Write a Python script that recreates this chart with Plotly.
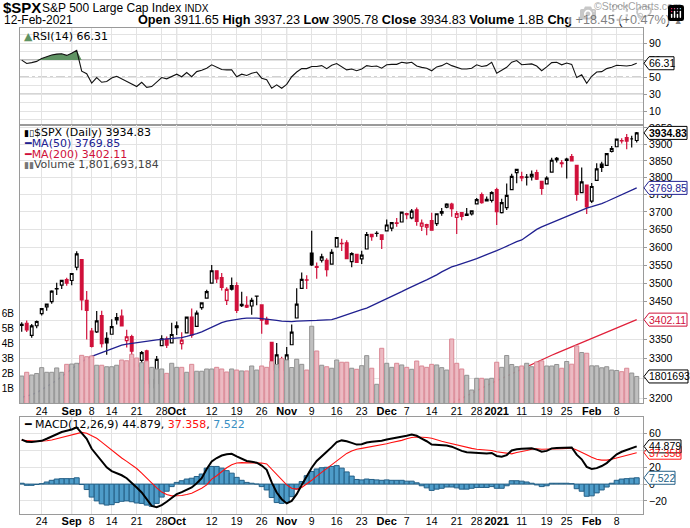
import math
import pandas as pd
import plotly.graph_objects as go

# ---------------- data ----------------
holidays = ["2020-09-07", "2020-11-26", "2020-12-25", "2021-01-01", "2021-01-18"]
dates = [d.strftime("%Y-%m-%d") for d in pd.bdate_range("2020-08-18", "2021-02-12")
         if d.strftime("%Y-%m-%d") not in holidays]
xi = list(range(len(dates)))

prev_close0 = 3381.99
opens = [3387.04, 3392.51, 3360.48, 3386.01, 3418.09, 3435.95, 3449.97, 3485.14, 3494.69, 3509.73,
         3507.44, 3543.76, 3564.74, 3453.60, 3371.88, 3369.82, 3412.56, 3352.70, 3363.56, 3407.73,
         3411.23, 3346.86, 3357.38, 3285.57, 3295.75, 3320.11, 3226.14, 3236.66, 3333.90, 3350.92,
         3341.21, 3385.87, 3338.94, 3367.27, 3408.74, 3384.56, 3434.28, 3459.67, 3500.02, 3534.01,
         3515.47, 3453.72, 3493.50, 3493.66, 3439.38, 3439.91, 3438.50, 3464.90, 3441.42, 3403.15,
         3342.48, 3277.17, 3293.59, 3296.20, 3336.25, 3406.46, 3485.74, 3508.34, 3583.04, 3543.26,
         3563.22, 3562.67, 3552.57, 3600.16, 3610.31, 3612.09, 3559.41, 3579.31, 3566.82, 3594.52,
         3635.50, 3638.55, 3634.18, 3645.87, 3653.78, 3668.28, 3670.94, 3694.73, 3683.05, 3705.98,
         3659.13, 3656.08, 3675.27, 3666.41, 3696.25, 3713.65, 3722.39, 3684.28, 3698.08, 3693.42,
         3694.03, 3723.03, 3750.01, 3736.19, 3733.27, 3764.61, 3698.02, 3712.20, 3764.71, 3815.05,
         3803.14, 3801.62, 3802.23, 3814.98, 3788.73, 3781.88, 3816.22, 3857.46, 3844.24, 3851.68,
         3862.96, 3836.83, 3755.75, 3778.05, 3731.17, 3791.84, 3840.27, 3836.66, 3878.30, 3892.59,
         3910.49, 3920.78, 3916.40, 3911.65]
highs = [3395.06, 3399.54, 3390.80, 3399.96, 3432.09, 3444.21, 3481.07, 3501.38, 3509.23, 3514.77,
         3528.03, 3588.11, 3564.85, 3479.15, 3379.97, 3424.77, 3425.55, 3368.95, 3402.93, 3419.48,
         3428.92, 3375.17, 3362.27, 3285.57, 3320.31, 3323.35, 3278.70, 3306.88, 3360.74, 3357.92,
         3393.56, 3397.18, 3369.10, 3409.57, 3431.56, 3426.26, 3447.28, 3482.34, 3549.85, 3534.01,
         3527.94, 3489.08, 3515.76, 3502.42, 3476.93, 3464.86, 3460.53, 3466.46, 3441.42, 3409.51,
         3342.48, 3341.05, 3304.93, 3330.14, 3389.49, 3486.25, 3529.05, 3521.58, 3645.99, 3557.22,
         3581.16, 3569.02, 3593.66, 3628.51, 3623.11, 3619.09, 3585.22, 3581.23, 3589.81, 3642.31,
         3635.50, 3644.31, 3634.18, 3678.45, 3670.96, 3682.73, 3699.20, 3697.41, 3708.45, 3712.39,
         3678.49, 3665.91, 3697.61, 3695.29, 3711.27, 3725.12, 3726.70, 3702.90, 3698.26, 3711.24,
         3703.82, 3740.51, 3756.12, 3744.63, 3760.20, 3769.99, 3737.83, 3783.04, 3811.55, 3826.69,
         3817.86, 3810.78, 3820.96, 3823.60, 3788.73, 3804.53, 3859.75, 3861.45, 3852.31, 3859.23,
         3870.90, 3836.83, 3830.50, 3778.05, 3784.32, 3843.09, 3847.51, 3872.42, 3894.56, 3915.77,
         3918.35, 3931.50, 3925.99, 3937.23]
lows = [3370.15, 3369.66, 3354.69, 3379.31, 3413.13, 3425.84, 3444.15, 3468.35, 3484.32, 3493.25,
        3494.60, 3535.23, 3427.41, 3349.63, 3329.27, 3366.84, 3329.25, 3310.47, 3363.56, 3389.25,
        3384.45, 3328.82, 3292.40, 3229.10, 3270.95, 3232.57, 3209.45, 3228.44, 3332.91, 3327.54,
        3340.47, 3361.39, 3323.69, 3367.27, 3354.54, 3384.56, 3428.15, 3458.07, 3499.61, 3500.86,
        3480.55, 3440.89, 3480.45, 3419.93, 3435.65, 3433.06, 3415.34, 3440.45, 3364.86, 3388.71,
        3268.89, 3259.82, 3233.94, 3279.74, 3336.25, 3405.17, 3485.74, 3484.34, 3547.48, 3511.91,
        3557.00, 3518.58, 3552.57, 3600.16, 3588.68, 3567.33, 3543.84, 3556.85, 3552.77, 3594.52,
        3617.76, 3629.33, 3594.39, 3645.87, 3644.84, 3657.17, 3670.94, 3678.88, 3678.83, 3660.54,
        3645.18, 3633.40, 3645.84, 3659.62, 3688.57, 3710.87, 3685.84, 3636.48, 3676.16, 3689.28,
        3689.32, 3723.03, 3723.31, 3730.21, 3726.88, 3662.71, 3695.07, 3705.34, 3764.71, 3783.60,
        3789.02, 3776.51, 3791.50, 3792.86, 3749.62, 3780.37, 3816.22, 3845.05, 3830.41, 3797.16,
        3847.78, 3732.48, 3755.75, 3694.12, 3725.62, 3791.84, 3816.68, 3836.66, 3874.93, 3892.59,
        3902.64, 3884.94, 3890.39, 3905.78]
closes = [3389.78, 3374.85, 3385.51, 3397.16, 3431.28, 3443.62, 3478.73, 3484.55, 3508.01, 3500.31,
          3526.65, 3580.84, 3455.06, 3426.96, 3331.84, 3398.96, 3339.19, 3340.97, 3383.54, 3401.20,
          3385.49, 3357.01, 3319.47, 3281.06, 3315.57, 3236.92, 3246.59, 3298.46, 3351.60, 3335.47,
          3363.00, 3380.80, 3348.42, 3408.60, 3360.97, 3419.44, 3446.83, 3477.14, 3534.22, 3511.93,
          3488.67, 3483.34, 3483.81, 3426.92, 3443.12, 3435.56, 3453.49, 3465.39, 3400.97, 3390.68,
          3271.03, 3310.11, 3269.96, 3310.24, 3369.16, 3443.44, 3510.45, 3509.44, 3550.50, 3545.53,
          3572.66, 3537.01, 3585.15, 3626.91, 3609.53, 3567.79, 3581.87, 3557.54, 3577.59, 3635.41,
          3629.65, 3638.35, 3621.63, 3662.45, 3669.01, 3666.72, 3699.12, 3691.96, 3702.25, 3672.82,
          3668.10, 3663.46, 3647.49, 3694.62, 3701.17, 3722.48, 3709.41, 3694.92, 3687.26, 3690.01,
          3703.06, 3735.36, 3727.04, 3732.04, 3756.07, 3700.65, 3726.86, 3748.14, 3803.79, 3824.68,
          3799.61, 3801.19, 3809.84, 3795.54, 3768.25, 3798.91, 3851.85, 3853.07, 3841.47, 3855.36,
          3849.62, 3750.77, 3787.38, 3714.24, 3773.86, 3826.31, 3830.17, 3871.74, 3886.83, 3915.59,
          3911.23, 3909.88, 3916.38, 3934.83]
volume_b = [1.83, 2.08, 1.90, 2.00, 2.39, 2.08, 2.08, 2.37, 2.08, 2.61,
            2.63, 2.68, 3.21, 3.12, 3.17, 2.55, 2.55, 2.45, 2.45, 2.55,
            2.90, 2.85, 3.28, 3.03, 2.72, 2.83, 2.41, 2.30, 2.30, 2.01,
            2.68, 2.41, 2.41, 2.08, 2.61, 2.15, 2.15, 2.30, 2.30, 2.41,
            2.30, 2.10, 2.30, 2.23, 2.17, 2.17, 2.50, 2.23, 2.50, 2.41,
            2.80, 2.60, 3.00, 2.90, 2.40, 2.95, 2.61, 2.23, 5.15, 3.50,
            2.55, 2.45, 2.35, 2.90, 2.75, 2.75, 2.35, 2.28, 2.52, 3.19,
            2.35, 1.28, 3.68, 2.68, 2.41, 2.68, 2.57, 2.41, 2.28, 2.83,
            2.50, 2.41, 2.61, 2.57, 2.39, 2.23, 4.30, 2.68, 2.30, 1.88,
            0.90, 1.68, 1.68, 1.62, 1.68, 2.75, 2.41, 3.20, 2.60, 2.45,
            2.50, 2.68, 2.45, 2.77, 2.84, 2.50, 2.50, 2.60, 2.35, 2.80,
            2.62, 3.84, 3.40, 3.35, 2.51, 2.51, 2.38, 2.45, 2.23, 2.20,
            2.12, 2.35, 2.03, 1.801693184]
ma50 = [3202, 3205, 3209, 3214, 3221, 3229, 3237, 3245, 3254, 3263,
        3274, 3284, 3293, 3300, 3306, 3311, 3316, 3321, 3326, 3330,
        3335, 3338, 3340, 3342, 3344, 3346, 3348, 3349, 3350, 3351,
        3352, 3354, 3355, 3358, 3361, 3365, 3370, 3376, 3382, 3389,
        3394, 3398, 3401, 3403, 3405, 3406, 3407, 3406, 3405, 3404,
        3402, 3400, 3398, 3397, 3397, 3398, 3398, 3399, 3400, 3400,
        3401, 3401, 3402, 3406, 3411, 3416, 3421, 3425, 3429, 3433,
        3439, 3445, 3451, 3457, 3463, 3470, 3477, 3484, 3491, 3497,
        3503, 3509, 3515, 3523, 3531, 3539, 3545, 3549, 3553, 3557,
        3563, 3568, 3573, 3578, 3584, 3590, 3596, 3603, 3609, 3615,
        3620, 3630, 3641, 3650, 3657, 3663, 3669, 3675, 3681, 3687,
        3694, 3700, 3706, 3711, 3715, 3719, 3724, 3730, 3737, 3743,
        3749, 3756, 3763, 3769.85]
ma200_start = 85
ma200 = [3181, 3187.5, 3194, 3200, 3206.5, 3212.5, 3219, 3225, 3231.5, 3238,
         3244, 3250, 3256, 3262, 3268, 3274, 3280, 3286, 3292, 3298,
         3303.5, 3309, 3314.5, 3320, 3326, 3331.5, 3337, 3342.5, 3348, 3353.5,
         3359, 3364.5, 3370, 3375.5, 3380.5, 3386, 3391.5, 3397, 3402.11]
rsi = [70, 66, 67, 68.5, 72, 74, 76, 77, 77.5, 75.5,
       78, 81.5, 57, 54, 43, 49.5, 44, 45, 49, 51,
       48, 45, 42, 39, 44, 38, 39, 44, 49.5, 48,
       51, 53.5, 50.5, 55.5, 50.5, 56.5, 58, 60.5, 64.5, 61.5,
       59, 58.5, 58.5, 50.5, 53.5, 52, 54.5, 56, 48.8, 47,
       37, 41, 37, 41.5, 50.5, 56, 60, 60, 62.5, 62.5,
       63.5, 60, 64, 66, 62, 58.5, 59.5, 57.5, 59.5, 63.5,
       62.5, 63, 60.5, 64.5, 65, 65, 67.5, 66.5, 67.5, 63,
       61.5, 60.5, 57.5, 62, 63.5, 66.5, 63.5, 61.3, 59.5, 59.5,
       60.5, 64.5, 62.5, 63.5, 67.5, 54.7, 58, 61.5, 67.5, 69.5,
       64.5, 65, 65.5, 63, 57.5, 62, 67, 67.5, 64.5, 66.5,
       65, 49.5, 52.7, 42.9, 51, 56, 56.5, 60, 61.5, 64,
       63.5, 63, 64, 66.31]
macd = [53, 50.5, 50, 50.5, 51.5, 54, 57, 60, 62, 63.5,
        65, 67.5, 61, 54, 42, 34.5, 26.5, 20, 15.5, 13,
        10.5, 7, 2, -4, -10, -18, -26, -27.5, -25, -21,
        -17, -12, -9.5, -6.5, -4, 1, 7, 18, 27, 31,
        34, 35.5, 36, 33, 30, 27.5, 26.5, 25.5, 22, 17,
        2, -10, -18, -23, -20, -12, -1, 10, 19.5, 27.5,
        33.5, 38.5, 44, 50, 52, 51, 49, 47, 47.5, 49.5,
        50.5, 51, 51.5, 53, 54, 55, 56.5, 57.5, 59, 57.5,
        54, 51, 47, 46.5, 46, 46, 44.5, 42, 39.5, 38,
        37.5, 37.5, 37, 36.5, 37, 33.5, 32.5, 34.5, 40, 41.5,
        42, 42.5, 42.5, 41, 38.5, 39.5, 42.5, 43, 43, 43.5,
        43.5, 35, 29.5, 20.5, 18, 19, 21.5, 25, 30.5, 35.5,
        38.5, 40.5, 42.5, 44.879]
signal = [52, 52, 51.5, 51, 51, 51.5, 52.5, 54, 55.5, 57,
          58.5, 60, 61.5, 60.5, 57.5, 54.5, 50, 45, 40, 35,
          31, 27, 23, 18.5, 13, 7, 0.5, -4.5, -9.5, -12.5,
          -14, -14, -13.5, -12.5, -11, -8, -5, -1, 6, 10,
          15, 19.5, 23, 25, 25.5, 25.5, 25.5, 25.5, 25, 24,
          18, 12, 5, -1, -5, -6, -4, 0, 4.5, 9.5,
          14, 18.5, 23, 28, 33, 36.5, 39.5, 41.5, 42.5, 43.5,
          45, 46, 47, 48, 49.5, 50.5, 52, 54, 55.5, 56,
          56, 55.5, 54.5, 52.5, 51, 49.5, 48, 46.5, 45.5, 44,
          42.5, 41.5, 41, 40.5, 40, 38.5, 37.5, 36.5, 36, 37.5,
          38.5, 40, 41.5, 42, 41.5, 41.5, 41.5, 42, 42, 42.5,
          43, 40.5, 38, 35, 32, 29.5, 28.5, 28.5, 29.5, 31,
          32.5, 34, 35.5, 37.358]
hist = [1, -1.5, -1.5, -0.5, 0.5, 2.5, 4.5, 6, 6.5, 6.5,
        6.5, 7.5, -0.5, -6.5, -15.5, -20, -23.5, -25, -24.5, -22,
        -20.5, -20, -21, -22.5, -23, -25, -26.5, -23, -15.5, -8.5,
        -3, 2, 4, 6, 7, 9, 12, 19, 21, 21,
        19, 16, 13, 8, 4.5, 2, 1, 0, -3, -7,
        -16, -22, -23, -22, -15, -6, 3, 10, 15, 18,
        19.5, 20, 21, 22, 19, 14.5, 9.5, 5.5, 5, 6,
        5.5, 5, 4.5, 5, 4.5, 4.5, 4.5, 3.5, 3.5, 1.5,
        -2, -4.5, -7.5, -6, -5, -3.5, -3.5, -4.5, -6, -6,
        -5, -4, -4, -4, -3, -5, -5, -2, 4, 4,
        3.5, 2.5, 1, -1, -3, -2, 1, 1, 1, 1,
        0.5, -5.5, -8.5, -14.5, -14, -10.5, -7, -3.5, 1, 4.5,
        6, 6.5, 7, 7.522]

tick_dates = ["2020-08-24", "2020-09-01", "2020-09-08", "2020-09-14", "2020-09-21", "2020-09-28",
              "2020-10-01", "2020-10-12", "2020-10-19", "2020-10-26", "2020-11-02", "2020-11-09",
              "2020-11-16", "2020-11-23", "2020-12-01", "2020-12-07", "2020-12-14", "2020-12-21",
              "2020-12-28", "2021-01-04", "2021-01-11", "2021-01-19", "2021-01-25", "2021-02-01",
              "2021-02-08"]
tick_labels = ["24", "Sep", "8", "14", "21", "28", "Oct", "12", "19", "26", "Nov", "9", "16", "23",
               "Dec", "7", "14", "21", "28", "2021", "11", "19", "25", "Feb", "8"]
month_labels = ["Sep", "Oct", "Nov", "Dec", "2021", "Feb"]

price_ticks = [3200, 3250, 3300, 3350, 3400, 3450, 3500, 3550, 3600, 3650, 3700, 3750, 3800, 3850, 3900, 3950]
vol_ticks_b = [1, 2, 3, 4, 5, 6]
rsi_ticks = [10, 30, 50, 70, 90]
macd_ticks = [-20, 0, 20, 40, 60]

# ---------------- styling ----------------
RED = "#d0103a"
NAVY = "#202090"
AX = "Liberation Sans"
LG = "DejaVu Sans"
GRID = "#e3e3e3"
MGRID = "#bdbdbd"
XR = [-0.34, 124.26]

pos = {d: i for i, d in enumerate(dates)}
tick_pos = [pos[d] for d in tick_dates]
tick_text = [("<b>%s</b>" % t) if t in month_labels else ("<span style='font-size:10.5px'>%s</span>" % t)
             for t in tick_labels]
month_pos = [p for p, t in zip(tick_pos, tick_labels) if t in month_labels]

prev = [prev_close0] + closes[:-1]
up_day = [c >= p for c, p in zip(closes, prev)]

fig = go.Figure()

# volume (overlay in price panel)
vol_fill = ["#bfbfbf" if u else "#ecbac2" for u in up_day]
vol_line = ["#929292" if u else "#da8894" for u in up_day]
fig.add_trace(go.Bar(x=xi, y=[v * 1e9 for v in volume_b], width=0.82,
                     marker=dict(color=vol_fill, line=dict(color=vol_line, width=1)),
                     xaxis="x2", yaxis="y3", hoverinfo="skip"))

# moving averages
fig.add_trace(go.Scatter(x=xi, y=ma50, mode="lines", line=dict(color=NAVY, width=1.3),
                         xaxis="x2", yaxis="y2", hoverinfo="skip"))
fig.add_trace(go.Scatter(x=list(range(ma200_start, ma200_start + len(ma200))), y=ma200, mode="lines",
                         line=dict(color="#e0203a", width=1.2), xaxis="x2", yaxis="y2", hoverinfo="skip"))

# candles: black (close up vs prior close) and red (close down)
for want, col, fill_dn in [(True, "black", "black"), (False, RED, RED)]:
    idx = [i for i in xi if up_day[i] == want]
    fig.add_trace(go.Candlestick(
        x=idx, open=[opens[i] for i in idx], high=[highs[i] for i in idx],
        low=[lows[i] for i in idx], close=[closes[i] for i in idx],
        increasing=dict(line=dict(color=col, width=1.2), fillcolor="white"),
        decreasing=dict(line=dict(color=col, width=1.2), fillcolor=fill_dn),
        whiskerwidth=0, xaxis="x2", yaxis="y2", hoverinfo="skip"))

# RSI
n_fill = 14
fig.add_trace(go.Scatter(x=xi[:n_fill], y=[70] * n_fill, mode="lines", line=dict(width=0),
                         xaxis="x", yaxis="y", hoverinfo="skip"))
fig.add_trace(go.Scatter(x=xi[:n_fill], y=[max(r, 70) for r in rsi[:n_fill]], mode="lines",
                         line=dict(width=0), fill="tonexty", fillcolor="#5f9363",
                         xaxis="x", yaxis="y", hoverinfo="skip"))
fig.add_trace(go.Scatter(x=xi, y=rsi, mode="lines", line=dict(color="#111111", width=1.1),
                         xaxis="x", yaxis="y", hoverinfo="skip"))

# MACD
fig.add_trace(go.Bar(x=xi, y=hist, width=1.0,
                     marker=dict(color="#4e9cc9", line=dict(color="#245f86", width=1)),
                     xaxis="x3", yaxis="y4", hoverinfo="skip"))
fig.add_trace(go.Scatter(x=xi, y=signal, mode="lines", line=dict(color="#ff1010", width=1.1),
                         xaxis="x3", yaxis="y4", hoverinfo="skip"))
fig.add_trace(go.Scatter(x=xi, y=macd, mode="lines", line=dict(color="black", width=2),
                         xaxis="x3", yaxis="y4", hoverinfo="skip"))

# ---------------- axes ----------------
D_RSI = [0.8014, 1.0]
D_PRICE = [0.2274, 0.8014]
D_MACD = [0.0, 0.199]

xcommon = dict(range=XR, tickmode="array", tickvals=tick_pos, ticktext=tick_text, showgrid=True,
               gridcolor=GRID, gridwidth=1, zeroline=False, showline=True, mirror=True,
               linecolor="#9a9a9a", linewidth=1, ticks="", fixedrange=True, tickangle=0,
               automargin=False, ticklabelstandoff=-3,
               tickfont=dict(family=AX, size=11, color="black"),
               rangeslider=dict(visible=False))
ycommon = dict(side="right", showgrid=True, gridcolor=GRID, zeroline=False, showline=True,
               mirror=True, linecolor="#9a9a9a", linewidth=1, ticks="outside", ticklen=3,
               tickcolor="#9a9a9a", tickfont=dict(family=AX, size=10.5, color="black"),
               fixedrange=True, automargin=False)

fig.update_layout(
    width=690, height=528, margin=dict(l=20, r=47, t=28, b=14, autoexpand=False),
    paper_bgcolor="white", plot_bgcolor="white", showlegend=False, boxgap=0.22,
    xaxis=dict(xcommon, anchor="y", showticklabels=False),
    xaxis2=dict(xcommon, anchor="y2", showticklabels=True),
    xaxis3=dict(xcommon, anchor="y4", showticklabels=True),
    yaxis=dict(ycommon, domain=D_RSI, range=[-5.5, 107.6], tickvals=rsi_ticks,
               minor=dict(dtick=10, tick0=0, showgrid=True, gridcolor=GRID, ticks="")),
    yaxis2=dict(ycommon, domain=D_PRICE, type="log", tickvals=price_ticks,
                range=[math.log10(3187), math.log10(3960.6)]),
    yaxis3=dict(overlaying="y2", anchor="x2", side="left", range=[0, 18.6e9], showgrid=False,
                zeroline=False, tickvals=[v * 1e9 for v in vol_ticks_b], automargin=False,
                ticktext=["%dB" % v for v in vol_ticks_b], ticks="", fixedrange=True,
                ticklabelstandoff=5, tickfont=dict(family=AX, size=10, color="black")),
    yaxis4=dict(ycommon, domain=D_MACD, range=[-35.6, 79.5], tickvals=macd_ticks),
)

shapes = []
for ref in ["y domain", "y2 domain", "y4 domain"]:
    xr = {"y domain": "x", "y2 domain": "x2", "y4 domain": "x3"}[ref]
    for p in month_pos:
        shapes.append(dict(type="line", xref=xr, yref=ref, x0=p, x1=p, y0=0, y1=1,
                           line=dict(color=MGRID, width=1), layer="below"))
# RSI reference lines
for lvl, dash, col in [(70, "solid", "#6a6a6a"), (30, "solid", "#6a6a6a"), (50, "dashdot", "#7a7a7a")]:
    shapes.append(dict(type="line", xref="x domain", yref="y", x0=0, x1=1, y0=lvl, y1=lvl,
                       line=dict(color=col, width=1, dash=dash), layer="below"))


def px(x):
    return (x - 20) / 623.0


def py(y):
    return (514 - y) / 486.0


annotations = []


def tag(yref, yval, text, color, w, bold=False, ylog=False):
    shapes.append(dict(type="path", xref="paper", xsizemode="pixel", xanchor=1.0,
                       yref=yref, ysizemode="pixel", yanchor=yval,
                       path="M1,0 L6,6.5 L%d,6.5 L%d,-6.5 L6,-6.5 Z" % (w, w),
                       fillcolor="white", line=dict(color=color, width=1), layer="above"))
    annotations.append(dict(xref="paper", x=1.0, xanchor="left", xshift=4, yref=yref,
                            y=math.log10(yval) if ylog else yval, yanchor="middle",
                            text=("<b>%s</b>" % text) if bold else text, showarrow=False,
                            font=dict(family=AX, size=10.5, color=color)))


tag("y", rsi[-1], "%.2f" % rsi[-1], "black", 31)
tag("y2", closes[-1], "%.2f" % closes[-1], "black", 44, bold=True, ylog=True)
tag("y2", ma50[-1], "%.2f" % ma50[-1], NAVY, 44, ylog=True)
tag("y2", ma200[-1], "%.2f" % ma200[-1], "#d0103a", 44, ylog=True)
tag("y3", volume_b[-1] * 1e9, "1801693", "black", 45)
tag("y4", signal[-1], "%.3f" % signal[-1], "#ff1010", 38)
tag("y4", macd[-1], "%.3f" % macd[-1], "black", 38)
tag("y4", hist[-1], "%.3f" % hist[-1], "#245f86", 32)


def txt(x, y, text, size=11, color="black", family=LG, xanchor="left"):
    annotations.append(dict(xref="paper", yref="paper", x=px(x), y=py(y), xanchor=xanchor,
                            yanchor="middle", text=text, showarrow=False,
                            font=dict(family=family, size=size, color=color)))


# header
txt(1, 7, "<b>$SPX</b>", size=15, family=AX)
txt(40, 7.5, "S&P 500 Large Cap Index <span style='font-size:10px'>INDX</span>", size=12, family=AX)
txt(684, 6, "©StockCharts.com", size=10.5, family=AX, color="#444", xanchor="right")
txt(2, 19.5, "12-Feb-2021", size=12, family=AX)
hdr = ("<b>Open</b> %.2f <b>High</b> %.2f <b>Low</b> %.2f <b>Close</b> %.2f <b>Volume</b> 1.8B "
       "<b>Chg</b> +18.45 (+0.47%%) <span style='font-size:9px'>▲</span>"
       % (opens[-1], highs[-1], lows[-1], closes[-1]))
txt(685, 19.5, hdr, size=12.7, family=AX, xanchor="right")

# panel legends
txt(22, 36, "<span style='color:#5f9363'>▲</span>RSI(14) %.2f" % rsi[-1], size=11)
txt(22, 132.5, "<span style='font-size:9px'>▮▯</span>$SPX (Daily) %.2f" % closes[-1], size=11)
txt(22, 143.5, "<span style='color:%s'>━</span>MA(50) %.2f" % (NAVY, ma50[-1]), size=11, color=NAVY)
txt(22, 154, "<span style='color:%s'>━</span>MA(200) %.2f" % (RED, ma200[-1]), size=11, color=RED)
txt(22, 164.5, "<span style='color:#777;font-size:9px'>▮▮</span>Volume 1,801,693,184", size=11, color="#444")
txt(22, 424.5, "━ MACD(12,26,9) %.3f, <span style='color:#ff1010'>%.3f</span>, "
    "<span style='color:#3a8fc4'>%.3f</span>" % (macd[-1], signal[-1], hist[-1]), size=11)

fig.update_layout(shapes=shapes, annotations=annotations)
fig.write_html("out.html", post_script="document.body.style.margin='0px';document.body.style.overflow='hidden';")
